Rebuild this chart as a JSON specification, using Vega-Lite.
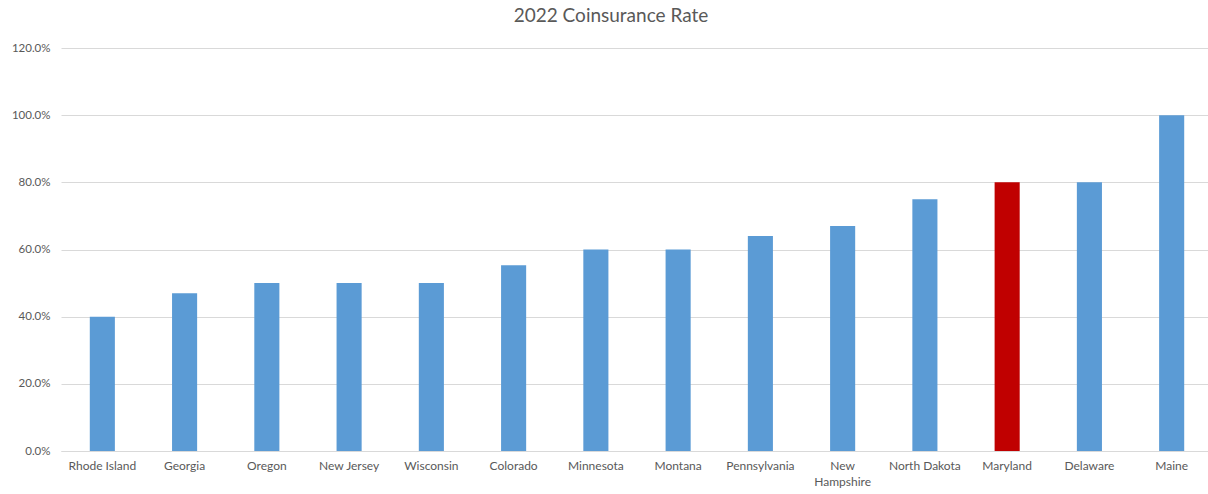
{
  "$schema": "https://vega.github.io/schema/vega-lite/v6.json",
  "autosize": "none",
  "width": 1152,
  "height": 403,
  "padding": {"left": 61, "top": 48, "right": 0, "bottom": 43},
  "background": "white",
  "config": {
    "view": {"stroke": null},
    "font": "Lato"
  },
  "title": {
    "text": "2022 Coinsurance Rate",
    "fontSize": 19,
    "fontWeight": "normal",
    "color": "#595959",
    "font": "Lato",
    "anchor": "middle",
    "dx": -26,
    "offset": 16
  },
  "data": {
    "values": [
      {"state": "Rhode Island", "rate": 0.40},
      {"state": "Georgia", "rate": 0.47},
      {"state": "Oregon", "rate": 0.50},
      {"state": "New Jersey", "rate": 0.50},
      {"state": "Wisconsin", "rate": 0.50},
      {"state": "Colorado", "rate": 0.553},
      {"state": "Minnesota", "rate": 0.60},
      {"state": "Montana", "rate": 0.60},
      {"state": "Pennsylvania", "rate": 0.64},
      {"state": "New Hampshire", "rate": 0.67},
      {"state": "North Dakota", "rate": 0.75},
      {"state": "Maryland", "rate": 0.80},
      {"state": "Delaware", "rate": 0.80},
      {"state": "Maine", "rate": 1.00}
    ]
  },
  "mark": {"type": "bar"},
  "encoding": {
    "x": {
      "field": "state",
      "type": "nominal",
      "sort": null,
      "scale": {"paddingInner": 0.695, "paddingOuter": 0.35},
      "axis": {
        "title": null,
        "labelAngle": 0,
        "labelFontSize": 12,
        "labelColor": "#595959",
        "labelPadding": 9,
        "ticks": false,
        "domain": true,
        "domainColor": "#d9d9d9",
        "labelExpr": "datum.label == 'New Hampshire' ? ['New', 'Hampshire'] : datum.label",
        "labelLineHeight": 16
      }
    },
    "y": {
      "field": "rate",
      "type": "quantitative",
      "scale": {"domain": [0, 1.2]},
      "axis": {
        "title": null,
        "format": ".1%",
        "values": [0, 0.2, 0.4, 0.6, 0.8, 1.0, 1.2],
        "labelFontSize": 11.5,
        "labelColor": "#595959",
        "labelPadding": 11,
        "ticks": false,
        "domain": false,
        "gridColor": "#d9d9d9",
        "gridWidth": 1
      }
    },
    "color": {
      "condition": {"test": "datum.state == 'Maryland'", "value": "#c00000"},
      "value": "#5b9bd5"
    }
  }
}
